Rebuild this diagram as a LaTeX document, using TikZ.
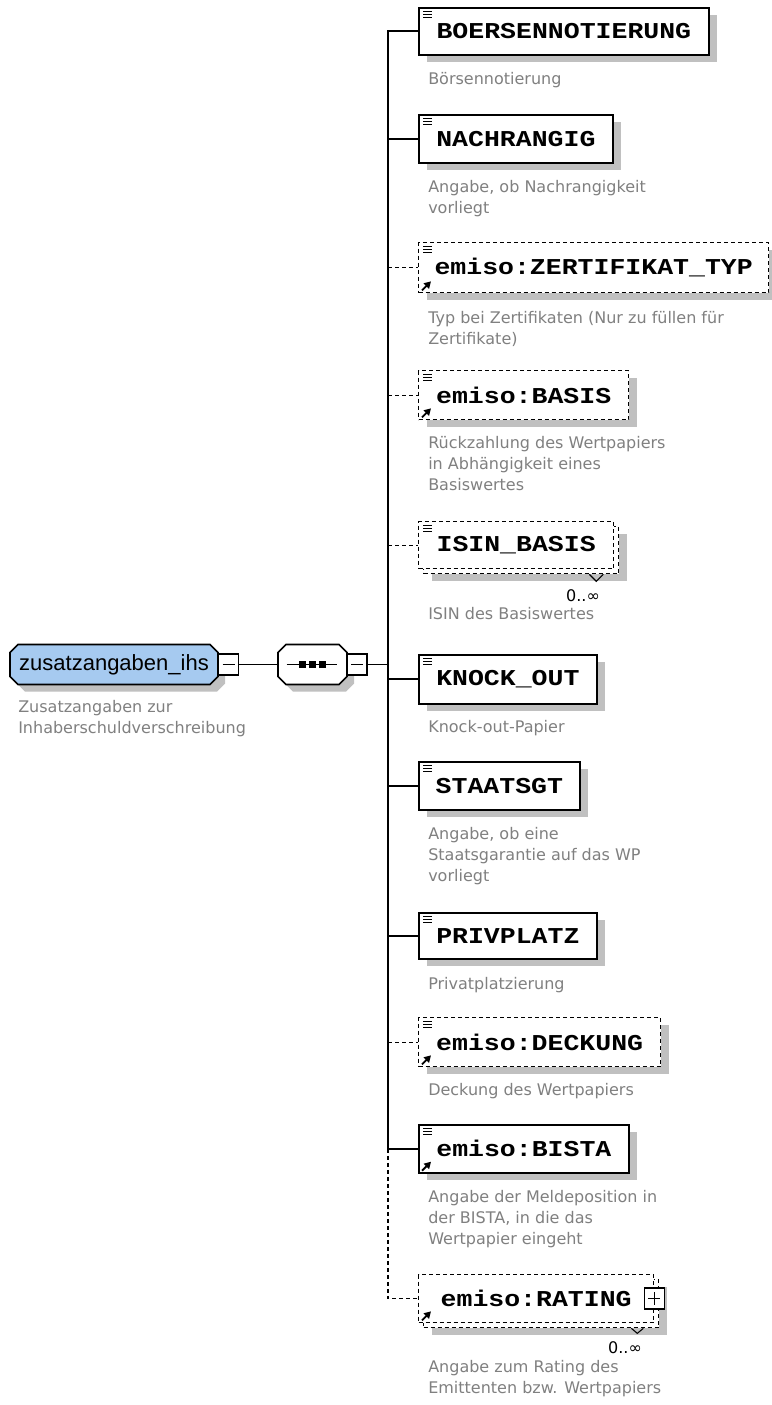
\documentclass[tikz,border=0pt]{standalone}
\usepackage{fontspec}
\usetikzlibrary{shadows,arrows.meta}
\newfontfamily\elfont[FakeStretch=1.17]{Liberation Mono}
\newfontfamily\descfont{DejaVu Sans}
\newfontfamily\rootfont{Liberation Sans}
\definecolor{rootblue}{RGB}{166,202,240}
\definecolor{shadowgray}{RGB}{192,192,192}
\definecolor{descgray}{RGB}{128,128,128}
\def\u{0.75pt}
\tikzset{
  sh/.style={drop shadow={shadow xshift=8*\u, shadow yshift=-7*\u, fill=shadowgray, opacity=1}},
  elembox/.style={draw=black, line width=1.3pt, fill=white, inner sep=0, anchor=north west,
    font=\elfont\bfseries\fontsize{17}{20}\selectfont},
  solidel/.style={elembox, sh},
  optel/.style={elembox, sh, line width=1pt, dash pattern=on 3pt off 2.25pt},
  optback/.style={elembox, line width=1pt, dash pattern=on 3pt off 2.25pt},
  desc/.style={anchor=north west, inner sep=0, align=left, text=descgray,
    font=\descfont\fontsize{12}{15.75}\selectfont},
  occ/.style={inner sep=0, font=\descfont\fontsize{12}{13}\selectfont},
  conn/.style={line width=1.35pt, draw=black},
  optconn/.style={line width=1pt, draw=black, dash pattern=on 3pt off 2.25pt},
  octfill/.style={draw=black, line width=1.2pt},
  togglebox/.style={draw=black, line width=1.1pt, fill=white, inner sep=0,
    minimum width=20*\u, minimum height=21*\u},
  minusbox/.style={togglebox, path picture={
    \draw[line width=0.9pt] ([xshift=3pt]path picture bounding box.west) -- ([xshift=-3pt]path picture bounding box.east);}},
  plusbox/.style={togglebox, path picture={
    \draw[line width=0.9pt] ([xshift=3pt]path picture bounding box.west) -- ([xshift=-3pt]path picture bounding box.east);
    \draw[line width=0.9pt] ([yshift=-3pt]path picture bounding box.north) -- ([yshift=3pt]path picture bounding box.south);}}
}
% octagon with shadow: x1 y1 x2 y2 fill
\newcommand\octshape[5]{%
  \path[fill=shadowgray, shift={(7,7)}] (#1+8,#2) -- (#3-8,#2) -- (#3,#2+8) -- (#3,#4-8) -- (#3-8,#4) -- (#1+8,#4) -- (#1,#4-8) -- (#1,#2+8) -- cycle;
  \path[octfill, fill=#5] (#1+8,#2) -- (#3-8,#2) -- (#3,#2+8) -- (#3,#4-8) -- (#3-8,#4) -- (#1+8,#4) -- (#1,#4-8) -- (#1,#2+8) -- cycle;}
\newcommand\eicon[1]{\foreach \d in {4,7,10}{\draw[line width=0.65pt] ([shift={(5,\d)}]#1.north west) -- ++(9,0);}}
\newcommand\erarrow[1]{\draw[line width=1.4pt,-{Triangle[length=5pt,width=5.5pt]}] ([shift={(4,-3)}]#1.south west) -- ++(9,-9);}
\begin{document}
\begin{tikzpicture}[x=0.75pt,y=-0.75pt]
\useasboundingbox[fill=white] (0,0) rectangle (771,1405);

% root
\octshape{10}{644.5}{218}{684.5}{rootblue}
\node[inner sep=0, minimum width=208*\u, minimum height=40*\u,
  font=\rootfont\fontsize{16.5}{18}\selectfont] (root) at (114,664.5) {zusatzangaben\_ihs};
\node[minusbox] (rootm) at (228.5,664.5) {};
\node[desc] (rootdesc) at (18,700) {Zusatzangaben zur\\Inhaberschuldverschreibung};

% sequence
\octshape{278}{644.5}{347}{684.5}{white}
\node[inner sep=0, minimum width=69*\u, minimum height=40*\u] (seq) at (312.5,664.5) {};
\draw[line width=1.2pt] ([xshift=9*\u]seq.west) -- ([xshift=-10*\u]seq.east);
\foreach \dx in {-10,0,10}{\fill ([xshift=\dx*\u]seq.center) +(-3.5,-3.5) rectangle +(3.5,3.5);}
\node[minusbox] (seqm) at (357,664.5) {};
\draw[conn] (rootm.east) -- (seq.west);

% children
\node[solidel, minimum width=290*\u, minimum height=47*\u] (e1) at (418,7) {BOERSENNOTIERUNG};
\node[solidel, minimum width=194*\u, minimum height=48*\u] (e2) at (418,114) {NACHRANGIG};
\node[optel, minimum width=350*\u, minimum height=50*\u] (e3) at (418,242) {emiso:ZERTIFIKAT\_TYP};
\node[optel, minimum width=210*\u, minimum height=49*\u] (e4) at (418,370) {emiso:BASIS};
\node[optel, minimum width=195*\u, minimum height=47*\u] (e5b) at (423,526) {};
\node[optback, minimum width=195*\u, minimum height=47*\u] (e5) at (418,521) {ISIN\_BASIS};
\node[solidel, minimum width=178*\u, minimum height=49*\u] (e6) at (418,654) {KNOCK\_OUT};
\node[solidel, minimum width=161*\u, minimum height=48*\u] (e7) at (418,761) {STAATSGT};
\node[solidel, minimum width=178*\u, minimum height=46*\u] (e8) at (418,912) {PRIVPLATZ};
\node[optel, minimum width=242*\u, minimum height=49*\u] (e9) at (418,1017) {emiso:DECKUNG};
\node[solidel, minimum width=210*\u, minimum height=48*\u] (e10) at (418,1124) {emiso:BISTA};
\node[optel, minimum width=235*\u, minimum height=48*\u] (e11b) at (423,1279) {};
\node[optback, minimum width=235*\u, minimum height=48*\u] (e11) at (418,1274) {emiso:RATING\hspace{14pt}};
\node[plusbox] (e11p) at (e11.east) {};

% icons
\foreach \n in {e1,e2,e3,e4,e5,e6,e7,e8,e9,e10}{\eicon{\n}}
\foreach \n in {e3,e4,e9,e10,e11}{\erarrow{\n}}

% occurrence marks
\draw[line width=0.8pt] ([shift={(-30,0)}]e5b.south east) -- ++(7,7) -- ++(7,-7);
\draw[line width=0.8pt] ([shift={(-28,0)}]e11b.south east) -- ++(6,5) -- ++(6,-5);
\node[occ] (o5) at (583,596) {0..∞};
\node[occ] (o11) at (625,1348) {0..∞};

% bus and branches
\coordinate (bustop) at ([xshift=-30*\u]e1.west);
\draw[conn] (seqm.east) -- (bustop |- seqm.east);
\draw[conn] (e1.west) -- (bustop) -- (bustop |- e10.west) -- (e10.west);
\foreach \n in {e2,e6,e7,e8}{\draw[conn] (bustop |- \n.west) -- (\n.west);}
\foreach \n in {e3,e4,e5,e9}{\draw[optconn] (bustop |- \n.west) -- (\n.west);}
\draw[optconn] (bustop |- e10.west) -- (bustop |- e11.west) -- (e11.west);

% descriptions
\node[desc] (d1) at (428,72) {Börsennotierung};
\node[desc] (d2) at (428,180) {Angabe, ob Nachrangigkeit\\vorliegt};
\node[desc] (d3) at (428,311) {Typ bei Zertifikaten (Nur zu füllen für\\Zertifikate)};
\node[desc] (d4) at (428,436) {Rückzahlung des Wertpapiers\\in Abhängigkeit eines\\Basiswertes};
\node[desc] (d5) at (428,607) {ISIN des Basiswertes};
\node[desc] (d6) at (428,720) {Knock-out-Papier};
\node[desc] (d7) at (428,827) {Angabe, ob eine\\Staatsgarantie auf das WP\\vorliegt};
\node[desc] (d8) at (428,977) {Privatplatzierung};
\node[desc] (d9) at (428,1083) {Deckung des Wertpapiers};
\node[desc] (d10) at (428,1190) {Angabe der Meldeposition in\\der BISTA, in die das\\Wertpapier eingeht};
\node[desc] (d11) at (428,1360) {Angabe zum Rating des\\Emittenten bzw. Wertpapiers};
\end{tikzpicture}
\end{document}
